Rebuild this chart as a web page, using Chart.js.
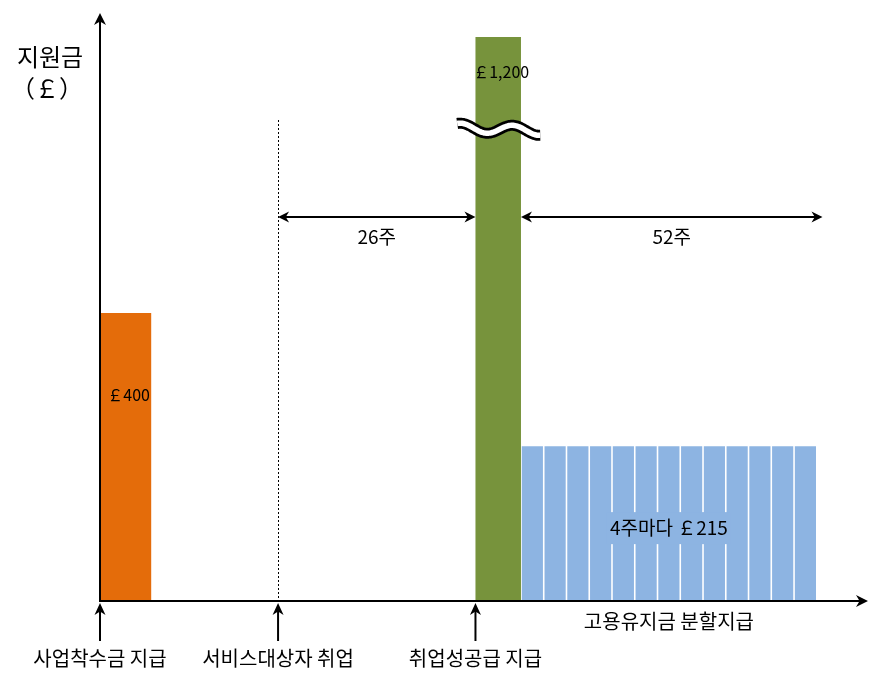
<!DOCTYPE html>
<html>
<head>
<meta charset="utf-8">
<script src="https://cdn.jsdelivr.net/npm/chart.js@4.4.1/dist/chart.umd.min.js"></script>
<style>
  html, body { margin: 0; padding: 0; background: #fff; }
  canvas { display: block; }
</style>
</head>
<body>
<canvas id="payChart" width="884" height="673"></canvas>
<script>
// timeline in weeks, spaced as the diagram draws it (schematic)
const xMax = 135;
const yMax = 783;

// one-off payments
const payNames = ['사업착수금', '취업성공급'];
const payFrom = [0, 66];
const payTo = [9, 74];
const payValues = [400, 1200];
const payLabels = ['￡400', '￡1,200'];

// sustainment payments, one block every 4 weeks
const installFrom = [74, 78, 82, 86, 90, 94, 98, 102, 106, 110, 114, 118, 122];
const installValues = [215, 215, 215, 215, 215, 215, 215, 215, 215, 215, 215, 215, 215];
const installWeeks = 4;
const installName = '고용유지금 분할지급';
const installLabel = '4주마다 ￡215';

// events marked under the axis
const eventNames = ['사업착수금 지급', '서비스대상자 취업', '취업성공급 지급'];
const eventAt = [0, 31.3, 66];

// week spans
const spanLabels = ['26주', '52주'];
const spanFrom = [31.3, 74];
const spanTo = [66, 127];

// y axis break drawn on the tall bar
const breakValue = 655;

const payColors = ['#E46C0A', '#77933C'];
const installColor = '#8DB4E2';
const FONT = '"Noto Sans CJK KR", "Noto Sans", sans-serif';

const step = installFrom[1] - installFrom[0];

const datasets = payNames.map((name, i) => ({
  label: name,
  data: [{ x: (payFrom[i] + payTo[i]) / 2, y: payValues[i] }],
  backgroundColor: payColors[i],
  categoryPercentage: (payTo[i] - payFrom[i]) / step,
  barPercentage: 1,
  clip: 0
}));
datasets.push({
  label: installName,
  data: installFrom.map((w, i) => ({ x: w + installWeeks / 2, y: installValues[i] })),
  backgroundColor: installColor,
  categoryPercentage: installWeeks / step,
  barPercentage: 0.93,
  clip: 0
});

function arrowHead(ctx, tx, ty, ang, len, half) {
  ctx.save();
  ctx.translate(tx, ty);
  ctx.rotate(ang);
  ctx.beginPath();
  ctx.moveTo(0, 0);
  ctx.lineTo(-len, -half);
  ctx.lineTo(-len * 0.7, 0);
  ctx.lineTo(-len, half);
  ctx.closePath();
  ctx.fill();
  ctx.restore();
}

function line(ctx, x1, y1, x2, y2) {
  ctx.beginPath();
  ctx.moveTo(x1, y1);
  ctx.lineTo(x2, y2);
  ctx.stroke();
}

const diagram = {
  id: 'diagram',
  afterDatasetsDraw(chart) {
    const { ctx, chartArea: a, scales: { x, y } } = chart;
    ctx.save();
    ctx.fillStyle = '#000';
    ctx.strokeStyle = '#000';
    ctx.textAlign = 'center';
    ctx.textBaseline = 'middle';

    // labels on the one-off bars
    const labelDrop = [82, 35];
    payLabels.forEach((t, i) => {
      const bar = chart.getDatasetMeta(i).data[0];
      ctx.font = '16px ' + FONT;
      ctx.fillText(t, bar.x + 3, Math.max(bar.y, a.top) + labelDrop[i]);
    });

    // label on the sustainment blocks, with a patch hiding the gaps
    const blocks = chart.getDatasetMeta(2).data;
    const bx = (x.getPixelForValue(installFrom[0]) +
      x.getPixelForValue(installFrom[installFrom.length - 1] + installWeeks)) / 2;
    const by = blocks[0].y + 82;
    ctx.font = '19px ' + FONT;
    const tw = ctx.measureText(installLabel).width;
    ctx.fillStyle = installColor;
    ctx.fillRect(bx - tw / 2 - 3, by - 16, tw + 6, 32);
    ctx.fillStyle = '#000';
    ctx.fillText(installLabel, bx, by);

    // axis break on the tall bar
    const tall = chart.getDatasetMeta(1).data[0];
    const yb = y.getPixelForValue(breakValue);
    const wave = () => {
      ctx.beginPath();
      for (let px = tall.x - 41; px <= tall.x + 42; px += 1) {
        const py = yb + 4.5 * Math.sin(2 * Math.PI * (px - (tall.x - 24.5)) / 52) + (px - tall.x) * 0.04;
        if (px === tall.x - 41) ctx.moveTo(px, py); else ctx.lineTo(px, py);
      }
      ctx.stroke();
    };
    ctx.lineCap = 'butt';
    ctx.lineWidth = 11;
    ctx.strokeStyle = '#000';
    wave();
    ctx.lineWidth = 5.5;
    ctx.strokeStyle = '#fff';
    wave();
    ctx.strokeStyle = '#000';

    // axes with arrow heads
    ctx.lineWidth = 2;
    line(ctx, a.left, a.bottom + 1, a.left, a.top - 16);
    arrowHead(ctx, a.left, a.top - 24, -Math.PI / 2, 12, 6);
    line(ctx, a.left, a.bottom, a.right - 6, a.bottom);
    arrowHead(ctx, a.right, a.bottom, 0, 12, 6);

    // dotted marker where the participant starts work
    const xj = Math.round(x.getPixelForValue(eventAt[1])) + 0.5;
    ctx.lineWidth = 1;
    ctx.setLineDash([2, 2]);
    line(ctx, xj, a.top + 83, xj, a.bottom);
    ctx.setLineDash([]);

    // week spans
    const sy = a.top + 180;
    ctx.lineWidth = 2;
    ctx.font = '19px ' + FONT;
    spanLabels.forEach((t, i) => {
      const x1 = x.getPixelForValue(spanFrom[i]);
      const x2 = x.getPixelForValue(spanTo[i]);
      line(ctx, x1 + 5, sy, x2 - 5, sy);
      arrowHead(ctx, x1, sy, Math.PI, 11, 5.5);
      arrowHead(ctx, x2, sy, 0, 11, 5.5);
      ctx.fillText(t, (x1 + x2) / 2, sy + 20);
    });

    // event arrows under the axis
    ctx.font = '20px ' + FONT;
    eventNames.forEach((t, i) => {
      const ex = x.getPixelForValue(eventAt[i]);
      line(ctx, ex, a.bottom + 40, ex, a.bottom + 10);
      arrowHead(ctx, ex, a.bottom + 2, -Math.PI / 2, 12, 5.5);
      ctx.fillText(t, ex, a.bottom + 57);
    });
    ctx.fillText(installName, bx, a.bottom + 20);

    // y axis title
    ctx.font = '24px ' + FONT;
    ctx.fillText('지원금', 50, a.top + 20);
    ctx.fillText('（￡）', 47, a.top + 51);

    ctx.restore();
  }
};

new Chart(document.getElementById('payChart'), {
  type: 'bar',
  data: { datasets },
  options: {
    responsive: false,
    animation: false,
    layout: { padding: { left: 100, right: 16, top: 37, bottom: 72 } },
    plugins: { legend: { display: false }, tooltip: { enabled: false } },
    datasets: { bar: { grouped: false, inflateAmount: 0 } },
    scales: {
      x: {
        type: 'linear', min: 0, max: xMax, offset: false, display: false,
        afterBuildTicks: s => { s.ticks = [{ value: 0 }, { value: xMax }]; }
      },
      y: { min: 0, max: yMax, display: false }
    }
  },
  plugins: [diagram]
});
</script>
</body>
</html>
